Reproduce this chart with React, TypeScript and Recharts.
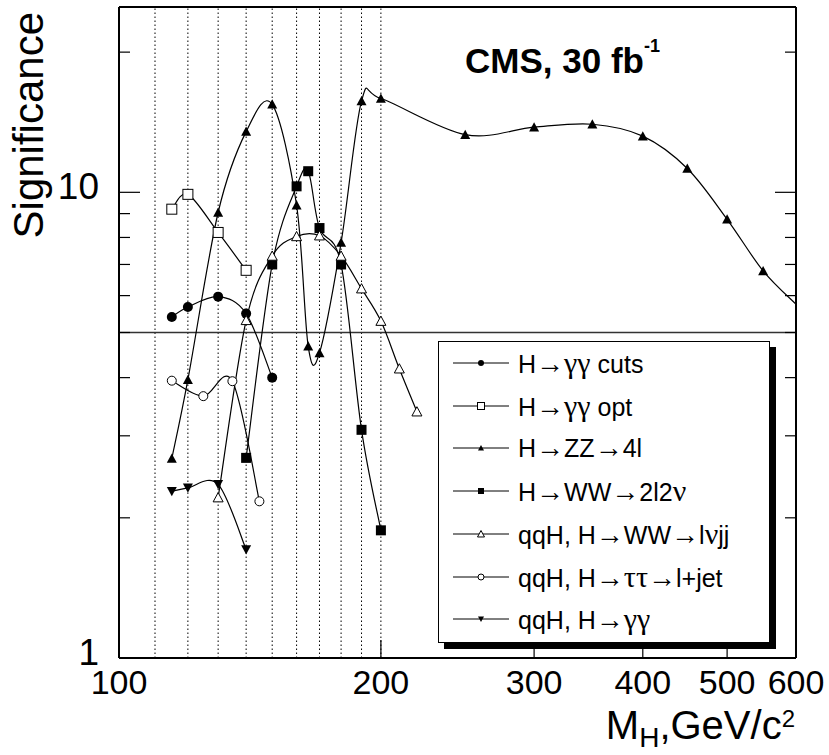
import React from 'react';
import { LineChart, Line, XAxis, YAxis, ReferenceLine, Legend } from 'recharts';

const FONT = '"Liberation Sans", Arial, Helvetica, sans-serif';
const SYMBOL_FONT = '"Liberation Serif", "DejaVu Serif", serif';

// M_H (GeV/c^2) and significance for each channel
const GG_CUTS_M = [115, 120, 130, 140, 150];
const GG_CUTS_S = [5.4, 5.67, 5.97, 5.49, 4.0];

const GG_OPT_M = [115, 120, 130, 140];
const GG_OPT_S = [9.2, 9.9, 8.2, 6.8];

const ZZ_M = [115, 120, 130, 140, 150, 160, 165, 170, 180, 190, 200, 250, 300, 350, 400, 450, 500, 550, 600];
const ZZ_S = [2.68, 3.96, 9.05, 13.5, 15.45, 9.38, 4.67, 4.52, 7.8, 15.7, 15.9, 13.3, 13.8, 14.0, 13.2, 11.25, 8.75, 6.78, 5.75];

const WW_M = [140, 150, 160, 165, 170, 180, 190, 200];
const WW_S = [2.69, 7.0, 10.3, 11.1, 8.38, 7.0, 3.09, 1.88];

const QQ_WW_M = [130, 140, 150, 160, 170, 180, 190, 200, 210, 220];
const QQ_WW_S = [2.21, 5.31, 7.3, 8.04, 8.07, 7.3, 6.21, 5.29, 4.18, 3.38];

const QQ_TT_M = [115, 125, 135, 145];
const QQ_TT_S = [3.94, 3.65, 3.93, 2.17];

const QQ_GG_M = [115, 120, 130, 140];
const QQ_GG_S = [2.28, 2.32, 2.36, 1.71];

const X_TICKS = [100, 200, 300, 400, 500, 600];
const Y_TICKS = [1, 2, 3, 4, 5, 6, 7, 8, 9, 10, 20];
const Y_LABELED = [1, 10];
const GRID_X = [110, 120, 130, 140, 150, 160, 170, 180, 190, 200];
const DISCOVERY = 5;

type Kind = 'circle' | 'circleOpen' | 'square' | 'squareOpen' | 'triUp' | 'triUpOpen' | 'triDown';

const zip = (m: number[], s: number[]) => m.map((v, i) => ({ m: v, s: s[i] }));

const SERIES: { name: string; kind: Kind; data: { m: number; s: number }[] }[] = [
  { name: 'H→γγ cuts', kind: 'circle', data: zip(GG_CUTS_M, GG_CUTS_S) },
  { name: 'H→γγ opt', kind: 'squareOpen', data: zip(GG_OPT_M, GG_OPT_S) },
  { name: 'H→ZZ→4l', kind: 'triUp', data: zip(ZZ_M, ZZ_S) },
  { name: 'H→WW→2l2ν', kind: 'square', data: zip(WW_M, WW_S) },
  { name: 'qqH, H→WW→lνjj', kind: 'triUpOpen', data: zip(QQ_WW_M, QQ_WW_S) },
  { name: 'qqH, H→ττ→l+jet', kind: 'circleOpen', data: zip(QQ_TT_M, QQ_TT_S) },
  { name: 'qqH, H→γγ', kind: 'triDown', data: zip(QQ_GG_M, QQ_GG_S) },
];

// smooth curve through the points, like ROOT's "C" option (Catmull-Rom)
const smoothCurve = (ctx: any) => {
  let pts: number[][] = [];
  return {
    areaStart() {},
    areaEnd() {},
    lineStart() {
      pts = [];
    },
    point(x: number, y: number) {
      pts.push([+x, +y]);
    },
    lineEnd() {
      const n = pts.length;
      if (!n) return;
      ctx.moveTo(pts[0][0], pts[0][1]);
      for (let i = 0; i < n - 1; i++) {
        const p0 = pts[Math.max(i - 1, 0)];
        const p1 = pts[i];
        const p2 = pts[i + 1];
        const p3 = pts[Math.min(i + 2, n - 1)];
        ctx.bezierCurveTo(
          p1[0] + (p2[0] - p0[0]) / 6, p1[1] + (p2[1] - p0[1]) / 6,
          p2[0] - (p3[0] - p1[0]) / 6, p2[1] - (p3[1] - p1[1]) / 6,
          p2[0], p2[1],
        );
      }
    },
  };
};

function Marker({ kind, cx, cy, s }: { kind: Kind; cx: number; cy: number; s: number }) {
  const h = s / 2;
  const open = kind === 'circleOpen' || kind === 'squareOpen' || kind === 'triUpOpen';
  const fill = open ? '#fff' : '#000';
  const sw = open ? 1 : 0;
  if (kind === 'circle' || kind === 'circleOpen') {
    return <circle cx={cx} cy={cy} r={open ? h - 0.5 : h} fill={fill} stroke="#000" strokeWidth={sw} />;
  }
  if (kind === 'square' || kind === 'squareOpen') {
    return <rect x={cx - h} y={cy - h} width={s} height={s} fill={fill} stroke="#000" strokeWidth={sw} />;
  }
  if (kind === 'triDown') {
    return <polygon points={`${cx - h},${cy - h * 0.85} ${cx + h},${cy - h * 0.85} ${cx},${cy + h}`} fill={fill} />;
  }
  return (
    <polygon
      points={`${cx},${cy - h} ${cx - h},${cy + h * 0.85} ${cx + h},${cy + h * 0.85}`}
      fill={fill}
      stroke="#000"
      strokeWidth={sw}
    />
  );
}

const makeDot = (kind: Kind) => (props: any) => {
  const { cx, cy, payload, index } = props;
  // last ZZ point sits on the frame edge, ROOT does not show its marker
  if (payload.m >= 600) return <g key={index} />;
  return <Marker key={index} kind={kind} cx={cx} cy={cy} s={10} />;
};

const BottomTick = (props: any) => {
  const { x, y, payload } = props;
  return (
    <g>
      <line x1={x} x2={x} y1={y} y2={y - 18} stroke="#000" strokeWidth={1.2} />
      <text x={x} y={y + 36} textAnchor="middle" fontSize={34} fontFamily={FONT} fill="#000">
        {payload.value}
      </text>
    </g>
  );
};

const TopTick = (props: any) => {
  const { x, y } = props;
  return <line x1={x} x2={x} y1={y} y2={y + 18} stroke="#000" strokeWidth={1.2} />;
};

const LeftTick = (props: any) => {
  const { x, y, payload } = props;
  const major = Y_LABELED.includes(payload.value);
  return (
    <g>
      <line x1={x} x2={x + (major ? 21 : 11)} y1={y} y2={y} stroke="#000" strokeWidth={1.2} />
      {major && (
        <text x={x - 20} y={y + 7} textAnchor="end" fontSize={37} fontFamily={FONT} fill="#000">
          {payload.value}
        </text>
      )}
    </g>
  );
};

const RightTick = (props: any) => {
  const { x, y, payload } = props;
  const major = Y_LABELED.includes(payload.value);
  return <line x1={x} x2={x - (major ? 21 : 11)} y1={y} y2={y} stroke="#000" strokeWidth={1.2} />;
};

function LegendLabel({ text }: { text: string }) {
  return (
    <>
      {Array.from(text).map((ch, i) =>
        ch === '→' ? (
          <span key={i} style={{ fontFamily: FONT, fontSize: 28 }}>→</span>
        ) : 'γτν'.includes(ch) ? (
          <span key={i} style={{ fontFamily: SYMBOL_FONT, fontSize: 30 }}>{ch}</span>
        ) : (
          <span key={i}>{ch}</span>
        ),
      )}
    </>
  );
}

function LegendBox() {
  return (
    <div
      style={{
        position: 'relative',
        width: 332,
        height: 302,
        boxSizing: 'border-box',
        border: '1px solid #000',
        background: '#fff',
        boxShadow: '6px 6px 0 #000',
        fontFamily: FONT,
        fontSize: 25,
        color: '#000',
      }}
    >
      {SERIES.map((s, i) => {
        const cy = 21 + i * 42.7;
        return (
          <div key={s.name} style={{ position: 'absolute', left: 0, top: cy - 20, height: 40, width: 330 }}>
            <svg width={75} height={40} style={{ position: 'absolute', left: 0, top: 0 }}>
              <line x1={14} x2={70} y1={20} y2={20} stroke="#000" strokeWidth={1} />
              <Marker kind={s.kind} cx={42} cy={20} s={s.kind.endsWith('Open') ? 7 : 6} />
            </svg>
            <div style={{ position: 'absolute', left: 79, top: 0, lineHeight: '40px', whiteSpace: 'nowrap' }}>
              <LegendLabel text={s.name} />
            </div>
          </div>
        );
      })}
    </div>
  );
}

export default function App() {
  return (
    <div style={{ position: 'absolute', left: 0, top: 0, width: 829, height: 755, background: '#fff' }}>
      <LineChart width={829} height={755} margin={{ top: 6, right: 32, bottom: 96, left: 118 }}>
        <XAxis
          dataKey="m"
          type="number"
          scale="log"
          domain={[100, 600]}
          allowDataOverflow
          ticks={X_TICKS}
          interval={0}
          height={1}
          tickSize={0}
          tickMargin={0}
          tick={BottomTick}
          axisLine={{ stroke: '#000', strokeWidth: 2 }}
        />
        <XAxis
          xAxisId="top"
          orientation="top"
          type="number"
          scale="log"
          domain={[100, 600]}
          allowDataOverflow
          ticks={X_TICKS}
          interval={0}
          height={1}
          tickSize={0}
          tickMargin={0}
          tick={TopTick}
          axisLine={{ stroke: '#000', strokeWidth: 2 }}
        />
        <YAxis
          type="number"
          scale="log"
          domain={[1, 25]}
          allowDataOverflow
          ticks={Y_TICKS}
          interval={0}
          width={1}
          tickSize={0}
          tickMargin={0}
          tick={LeftTick}
          axisLine={{ stroke: '#000', strokeWidth: 2 }}
        />
        <YAxis
          yAxisId="right"
          orientation="right"
          type="number"
          scale="log"
          domain={[1, 25]}
          allowDataOverflow
          ticks={Y_TICKS}
          interval={0}
          width={1}
          tickSize={0}
          tickMargin={0}
          tick={RightTick}
          axisLine={{ stroke: '#000', strokeWidth: 2 }}
        />

        {GRID_X.map((v) => (
          <ReferenceLine key={v} x={v} stroke="#000" strokeWidth={1} strokeDasharray="1.5 2.5" />
        ))}
        <ReferenceLine y={DISCOVERY} stroke="#333" strokeWidth={1.5} />

        {SERIES.map((s) => (
          <Line
            key={s.name}
            data={s.data}
            dataKey="s"
            name={s.name}
            type={smoothCurve as any}
            stroke="#000"
            strokeWidth={1.2}
            dot={makeDot(s.kind)}
            activeDot={false}
            isAnimationActive={false}
          />
        ))}

        <Legend
          layout="vertical"
          align="center"
          verticalAlign="middle"
          wrapperStyle={{ left: 438, top: 341, width: 332, height: 302 }}
          content={() => <LegendBox />}
        />
      </LineChart>

      {/* titles */}
      <svg width={829} height={755} style={{ position: 'absolute', left: 0, top: 0, pointerEvents: 'none' }}>
        <text x={465} y={73} fontFamily={FONT} fontWeight="bold" fontSize={35} fill="#000">
          CMS, 30 fb
          <tspan fontSize={18} dy={-21}>-1</tspan>
        </text>
        <text transform="translate(43, 12) rotate(-90)" textAnchor="end" fontFamily={FONT} fontSize={42} fill="#000">
          Significance
        </text>
        <text x={795} y={739} textAnchor="end" fontFamily={FONT} fontSize={40} fill="#000">
          M
          <tspan fontSize={28} dy={8}>H</tspan>
          <tspan dy={-8}>,GeV/c</tspan>
          <tspan fontSize={24} dy={-12}>2</tspan>
        </text>
      </svg>
    </div>
  );
}
